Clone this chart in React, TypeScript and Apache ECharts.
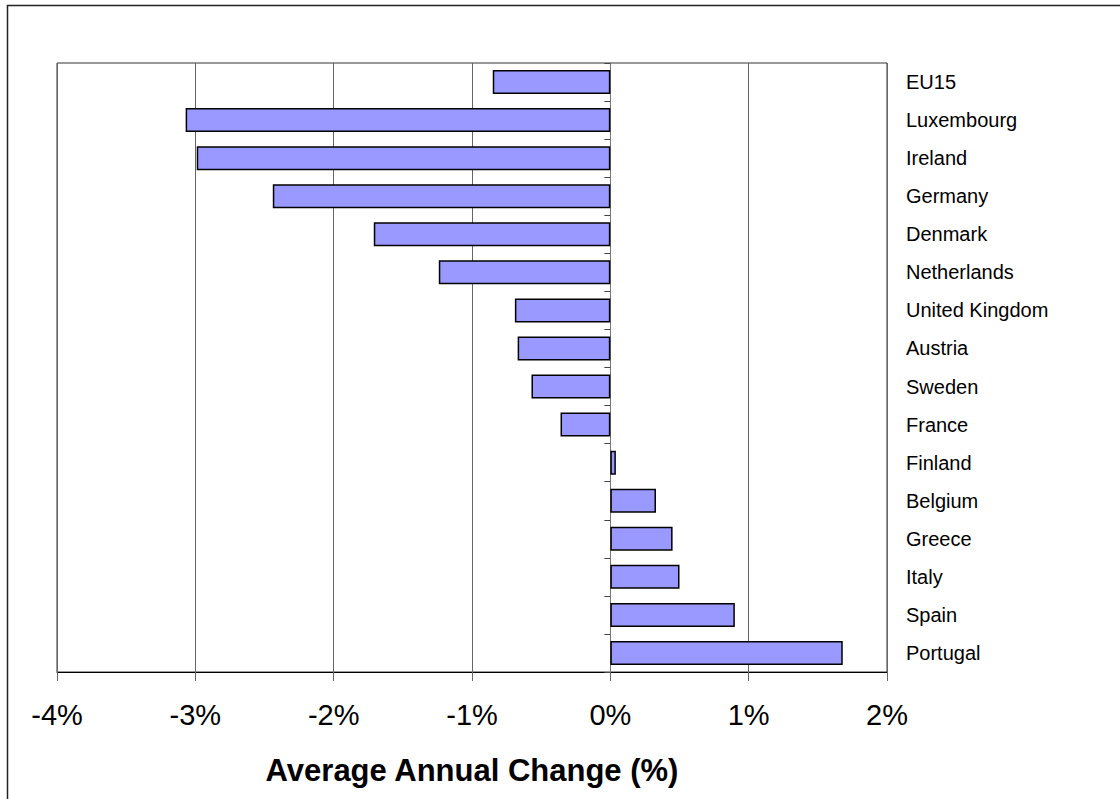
import React, { useEffect, useRef } from "react";
import * as echarts from "echarts";

// Countries, top to bottom
const countries = [
  "EU15",
  "Luxembourg",
  "Ireland",
  "Germany",
  "Denmark",
  "Netherlands",
  "United Kingdom",
  "Austria",
  "Sweden",
  "France",
  "Finland",
  "Belgium",
  "Greece",
  "Italy",
  "Spain",
  "Portugal",
];

// Average annual change, in percent
const annualChange = [
  -0.85, -3.07, -2.99, -2.44, -1.71, -1.24, -0.69, -0.67, -0.57, -0.36, 0.04,
  0.33, 0.45, 0.5, 0.9, 1.68,
];

const axisMin = -4;
const axisMax = 2;
const axisStep = 1;

const axisTitle = "Average Annual Change (%)";

const FONT = 'Arial, "Liberation Sans", Helvetica, sans-serif';

export default function App() {
  const ref = useRef<HTMLDivElement>(null);

  useEffect(() => {
    if (!ref.current) return;
    const chart = echarts.init(ref.current, undefined, { renderer: "svg" });
    chart.setOption({
      animation: false,
      backgroundColor: "#fff",
      grid: {
        left: 57,
        right: 233,
        top: 63,
        bottom: 127,
        show: true,
        borderColor: "#333",
        borderWidth: 1,
        backgroundColor: "transparent",
      },
      xAxis: {
        type: "value",
        min: axisMin,
        max: axisMax,
        interval: axisStep,
        axisLine: { show: true, onZero: false, lineStyle: { color: "#000", width: 1 } },
        axisTick: { show: true, length: 9, lineStyle: { color: "#666" } },
        axisLabel: {
          formatter: "{value}%",
          color: "#000",
          fontFamily: FONT,
          fontSize: 29,
          margin: 28,
        },
        splitLine: { show: true, lineStyle: { color: "#666", width: 1 } },
      },
      yAxis: [
        {
          type: "category",
          data: countries,
          inverse: true,
          position: "right",
          axisLine: { show: false, onZero: false },
          axisTick: { show: false },
          axisLabel: {
            color: "#000",
            fontFamily: FONT,
            fontSize: 20,
            margin: 19,
            align: "left",
          },
          splitLine: { show: false },
        },
        {
          type: "category",
          data: countries,
          inverse: true,
          position: "left",
          axisLine: { show: true, onZero: true, lineStyle: { color: "#777", width: 1 } },
          axisTick: { show: true, length: 6, lineStyle: { color: "#444" } },
          axisLabel: { show: false },
          splitLine: { show: false },
        },
      ],
      series: [
        {
          type: "bar",
          yAxisIndex: 0,
          data: annualChange,
          barWidth: "63%",
          itemStyle: {
            color: "#9999FF",
            borderColor: "#000",
            borderWidth: 1.5,
          },
          emphasis: { disabled: true },
        },
      ],
      graphic: [
        {
          type: "rect",
          shape: { x: 7.5, y: 5.5, width: 1130, height: 810 },
          style: { fill: "none", stroke: "#222", lineWidth: 1.5 },
          silent: true,
        },
        {
          type: "text",
          x: 472,
          y: 770,
          style: {
            text: axisTitle,
            fontFamily: FONT,
            fontSize: 31,
            fontWeight: "bold",
            fill: "#000",
            textAlign: "center",
            textVerticalAlign: "middle",
          },
        },
      ],
    });
    return () => chart.dispose();
  }, []);

  return (
    <div
      ref={ref}
      style={{ position: "fixed", left: 0, top: 0, width: 1120, height: 799 }}
    />
  );
}
